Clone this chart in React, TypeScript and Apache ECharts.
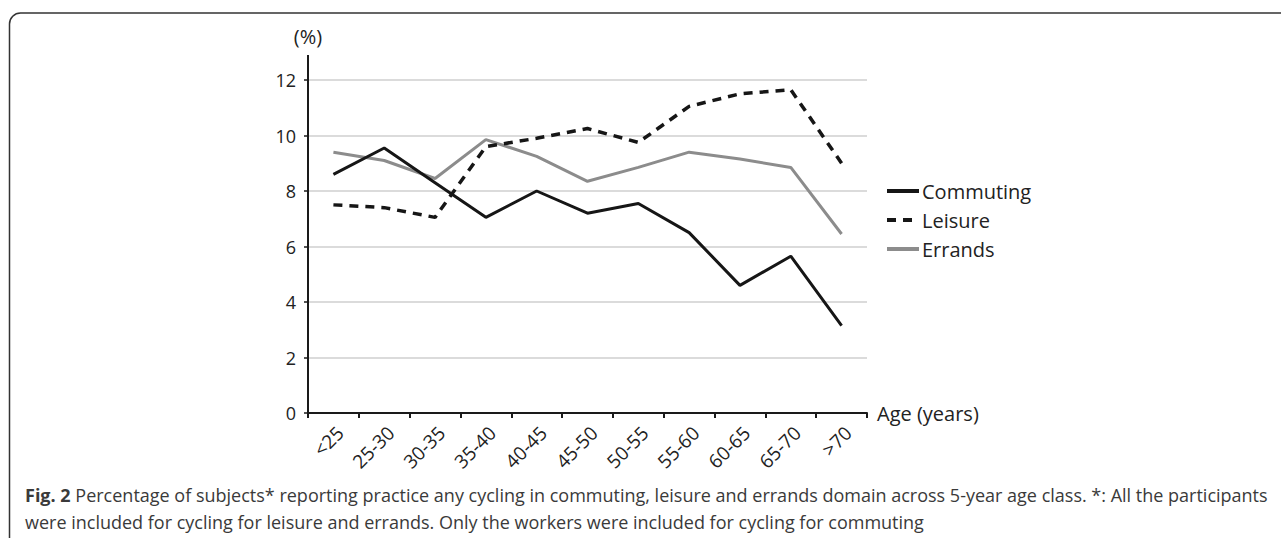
import React, { useEffect, useRef } from "react";
import * as echarts from "echarts";

const categories = ["<25", "25-30", "30-35", "35-40", "40-45", "45-50", "50-55", "55-60", "60-65", "65-70", ">70"];
const commuting = [8.6, 9.55, 8.3, 7.05, 8.0, 7.2, 7.55, 6.5, 4.6, 5.65, 3.15];
const leisure = [7.5, 7.4, 7.05, 9.6, 9.9, 10.25, 9.75, 11.05, 11.5, 11.65, 9.0];
const errands = [9.4, 9.1, 8.45, 9.85, 9.25, 8.35, 8.85, 9.4, 9.15, 8.85, 6.45];
const yTicks = { min: 0, max: 12, interval: 2 };
const captionLine1 =
  " Percentage of subjects* reporting practice any cycling in commuting, leisure and errands domain across 5-year age class. *: All the participants";
const captionLine2 = "were included for cycling for leisure and errands. Only the workers were included for cycling for commuting";

const FONT = "'Open Sans', 'Noto Sans', sans-serif";

export default function App() {
  const ref = useRef<HTMLDivElement>(null);
  useEffect(() => {
    if (!ref.current) return;
    const chart = echarts.init(ref.current, undefined, { renderer: "svg" });
    chart.setOption({
      animation: false,
      backgroundColor: "#ffffff",
      textStyle: { fontFamily: FONT },
      grid: { left: 308, top: 80, right: 414, bottom: 125, containLabel: false },
      legend: {
        orient: "vertical",
        left: 885,
        top: 180,
        padding: 0,
        itemWidth: 32,
        itemHeight: 14,
        itemGap: 7,
        itemStyle: { opacity: 0 },
        lineStyle: { width: 4 },
        data: ["Commuting", "Leisure", "Errands"],
        textStyle: { fontFamily: FONT, fontSize: 20, color: "#222", lineHeight: 22, padding: [0, 0, 0, -2] },
      },
      title: {
        left: 20,
        top: 476,
        text: "{b|Fig. 2}" + captionLine1 + "\n" + captionLine2,
        textStyle: {
          fontFamily: FONT,
          fontSize: 18,
          fontWeight: "normal",
          color: "#3a3a3a",
          lineHeight: 27,
          rich: {
            b: { fontFamily: FONT, fontSize: 18, fontWeight: "bold", color: "#3a3a3a", lineHeight: 27 },
          },
        },
      },
      xAxis: {
        type: "category",
        data: categories,
        boundaryGap: true,
        name: "Age (years)",
        nameLocation: "end",
        nameGap: 10,
        nameTextStyle: { fontFamily: FONT, fontSize: 20, color: "#222", verticalAlign: "middle" },
        axisLine: { lineStyle: { color: "#1a1a1a", width: 2 } },
        axisTick: { show: true, alignWithLabel: false, length: 5, lineStyle: { color: "#1a1a1a", width: 2 } },
        axisLabel: {
          rotate: 45,
          interval: 0,
          margin: 10,
          verticalAlign: "top",
          fontFamily: FONT,
          fontSize: 19,
          color: "#222",
        },
        splitLine: { show: false },
      },
      yAxis: {
        type: "value",
        min: yTicks.min,
        max: yTicks.max,
        interval: yTicks.interval,
        name: "(%)",
        nameLocation: "end",
        nameGap: 34,
        nameTextStyle: { fontFamily: FONT, fontSize: 20, color: "#222", align: "center" },
        axisLine: {
          show: true,
          symbol: ["none", "rect"],
          symbolSize: [2, 25],
          symbolOffset: [0, 12.5],
          lineStyle: { color: "#1a1a1a", width: 2 },
        },
        axisTick: { show: true, length: 4, lineStyle: { color: "#1a1a1a", width: 1.5 } },
        axisLabel: { margin: 12, fontFamily: FONT, fontSize: 18, color: "#222" },
        splitLine: { show: true, lineStyle: { color: "#cfcfcf", width: 1.5 } },
      },
      graphic: [
        {
          type: "rect",
          shape: { x: 9.5, y: 13, width: 1400, height: 700, r: 11 },
          style: { fill: "none", stroke: "#333", lineWidth: 1.5 },
          silent: true,
        },
      ],
      series: [
        {
          name: "Commuting",
          type: "line",
          data: commuting,
          symbol: "none",
          lineStyle: { color: "#161616", width: 3 },
          itemStyle: { color: "#161616" },
          z: 3,
        },
        {
          name: "Leisure",
          type: "line",
          data: leisure,
          symbol: "none",
          lineStyle: { color: "#161616", width: 3.5, type: [9, 7] },
          itemStyle: { color: "#161616" },
          z: 4,
        },
        {
          name: "Errands",
          type: "line",
          data: errands,
          symbol: "none",
          lineStyle: { color: "#8c8c8c", width: 3 },
          itemStyle: { color: "#8c8c8c" },
          z: 2,
        },
      ],
    });
    return () => chart.dispose();
  }, []);
  return <div ref={ref} style={{ position: "absolute", left: 0, top: 0, width: 1281, height: 538 }} />;
}
